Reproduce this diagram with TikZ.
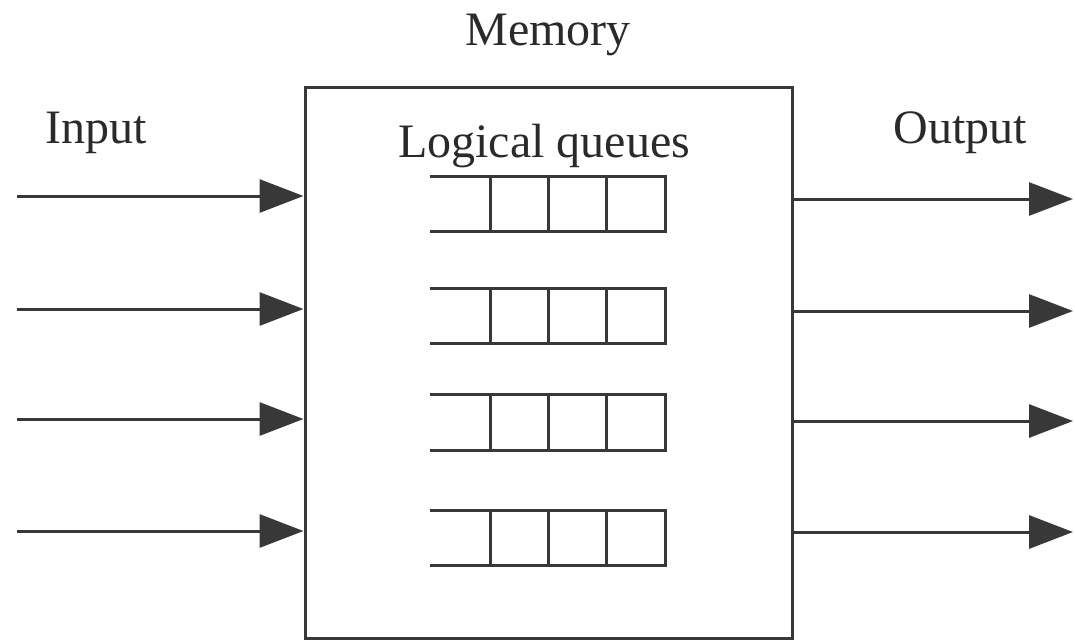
\documentclass[tikz,border=0pt]{standalone}
\usepackage{fontspec}
\setmainfont{Liberation Serif}
\usetikzlibrary{arrows.meta}
\definecolor{ink}{HTML}{383838}
\definecolor{txt}{HTML}{2A2A2A}
\tikzset{
  lbl/.style={text=txt, font=\fontsize{48}{52}\selectfont, anchor=base, inner sep=0pt},
  membox/.style={draw=ink, line width=3pt, minimum width=487pt, minimum height=551pt, inner sep=0pt},
  qline/.style={draw=ink, line width=3pt},
  arr/.style={draw=ink, line width=3pt, -{Triangle[length=44pt,width=33pt]}},
}
\begin{document}
\begin{tikzpicture}[x=1pt,y=-1pt]
\useasboundingbox (0,0) rectangle (1075,641);
\node[membox] (mem) at (548.5,362.5) {};
\node[lbl] (memlbl) at (548,45) {Memory};
\node[lbl] (inlbl) at (96,143) {Input};
\node[lbl] (qlbl) at (544,157) {Logical queues};
\node[lbl] (outlbl) at (960,143) {Output};
% queues
\foreach \t/\b in {176/231, 288/343, 394/450, 510/565}{
  \draw[qline] (430,\t) -- (665,\t) -- (665,\b) -- (430,\b);
  \foreach \x in {490,548,606}{
    \draw[qline] (\x,\t) -- (\x,\b);
  }
}
% input arrows
\coordinate (i1) at (17,196);
\coordinate (i2) at (17,309);
\coordinate (i3) at (17,419);
\coordinate (i4) at (17,531);
\foreach \n in {i1,i2,i3,i4}{
  \draw[arr] (\n) -- (\n -| mem.west);
}
% output arrows
\coordinate (o1) at (1073,199);
\coordinate (o2) at (1073,311);
\coordinate (o3) at (1073,421);
\coordinate (o4) at (1073,532);
\foreach \n in {o1,o2,o3,o4}{
  \draw[arr] (\n -| mem.east) -- (\n);
}
\end{tikzpicture}
\end{document}
